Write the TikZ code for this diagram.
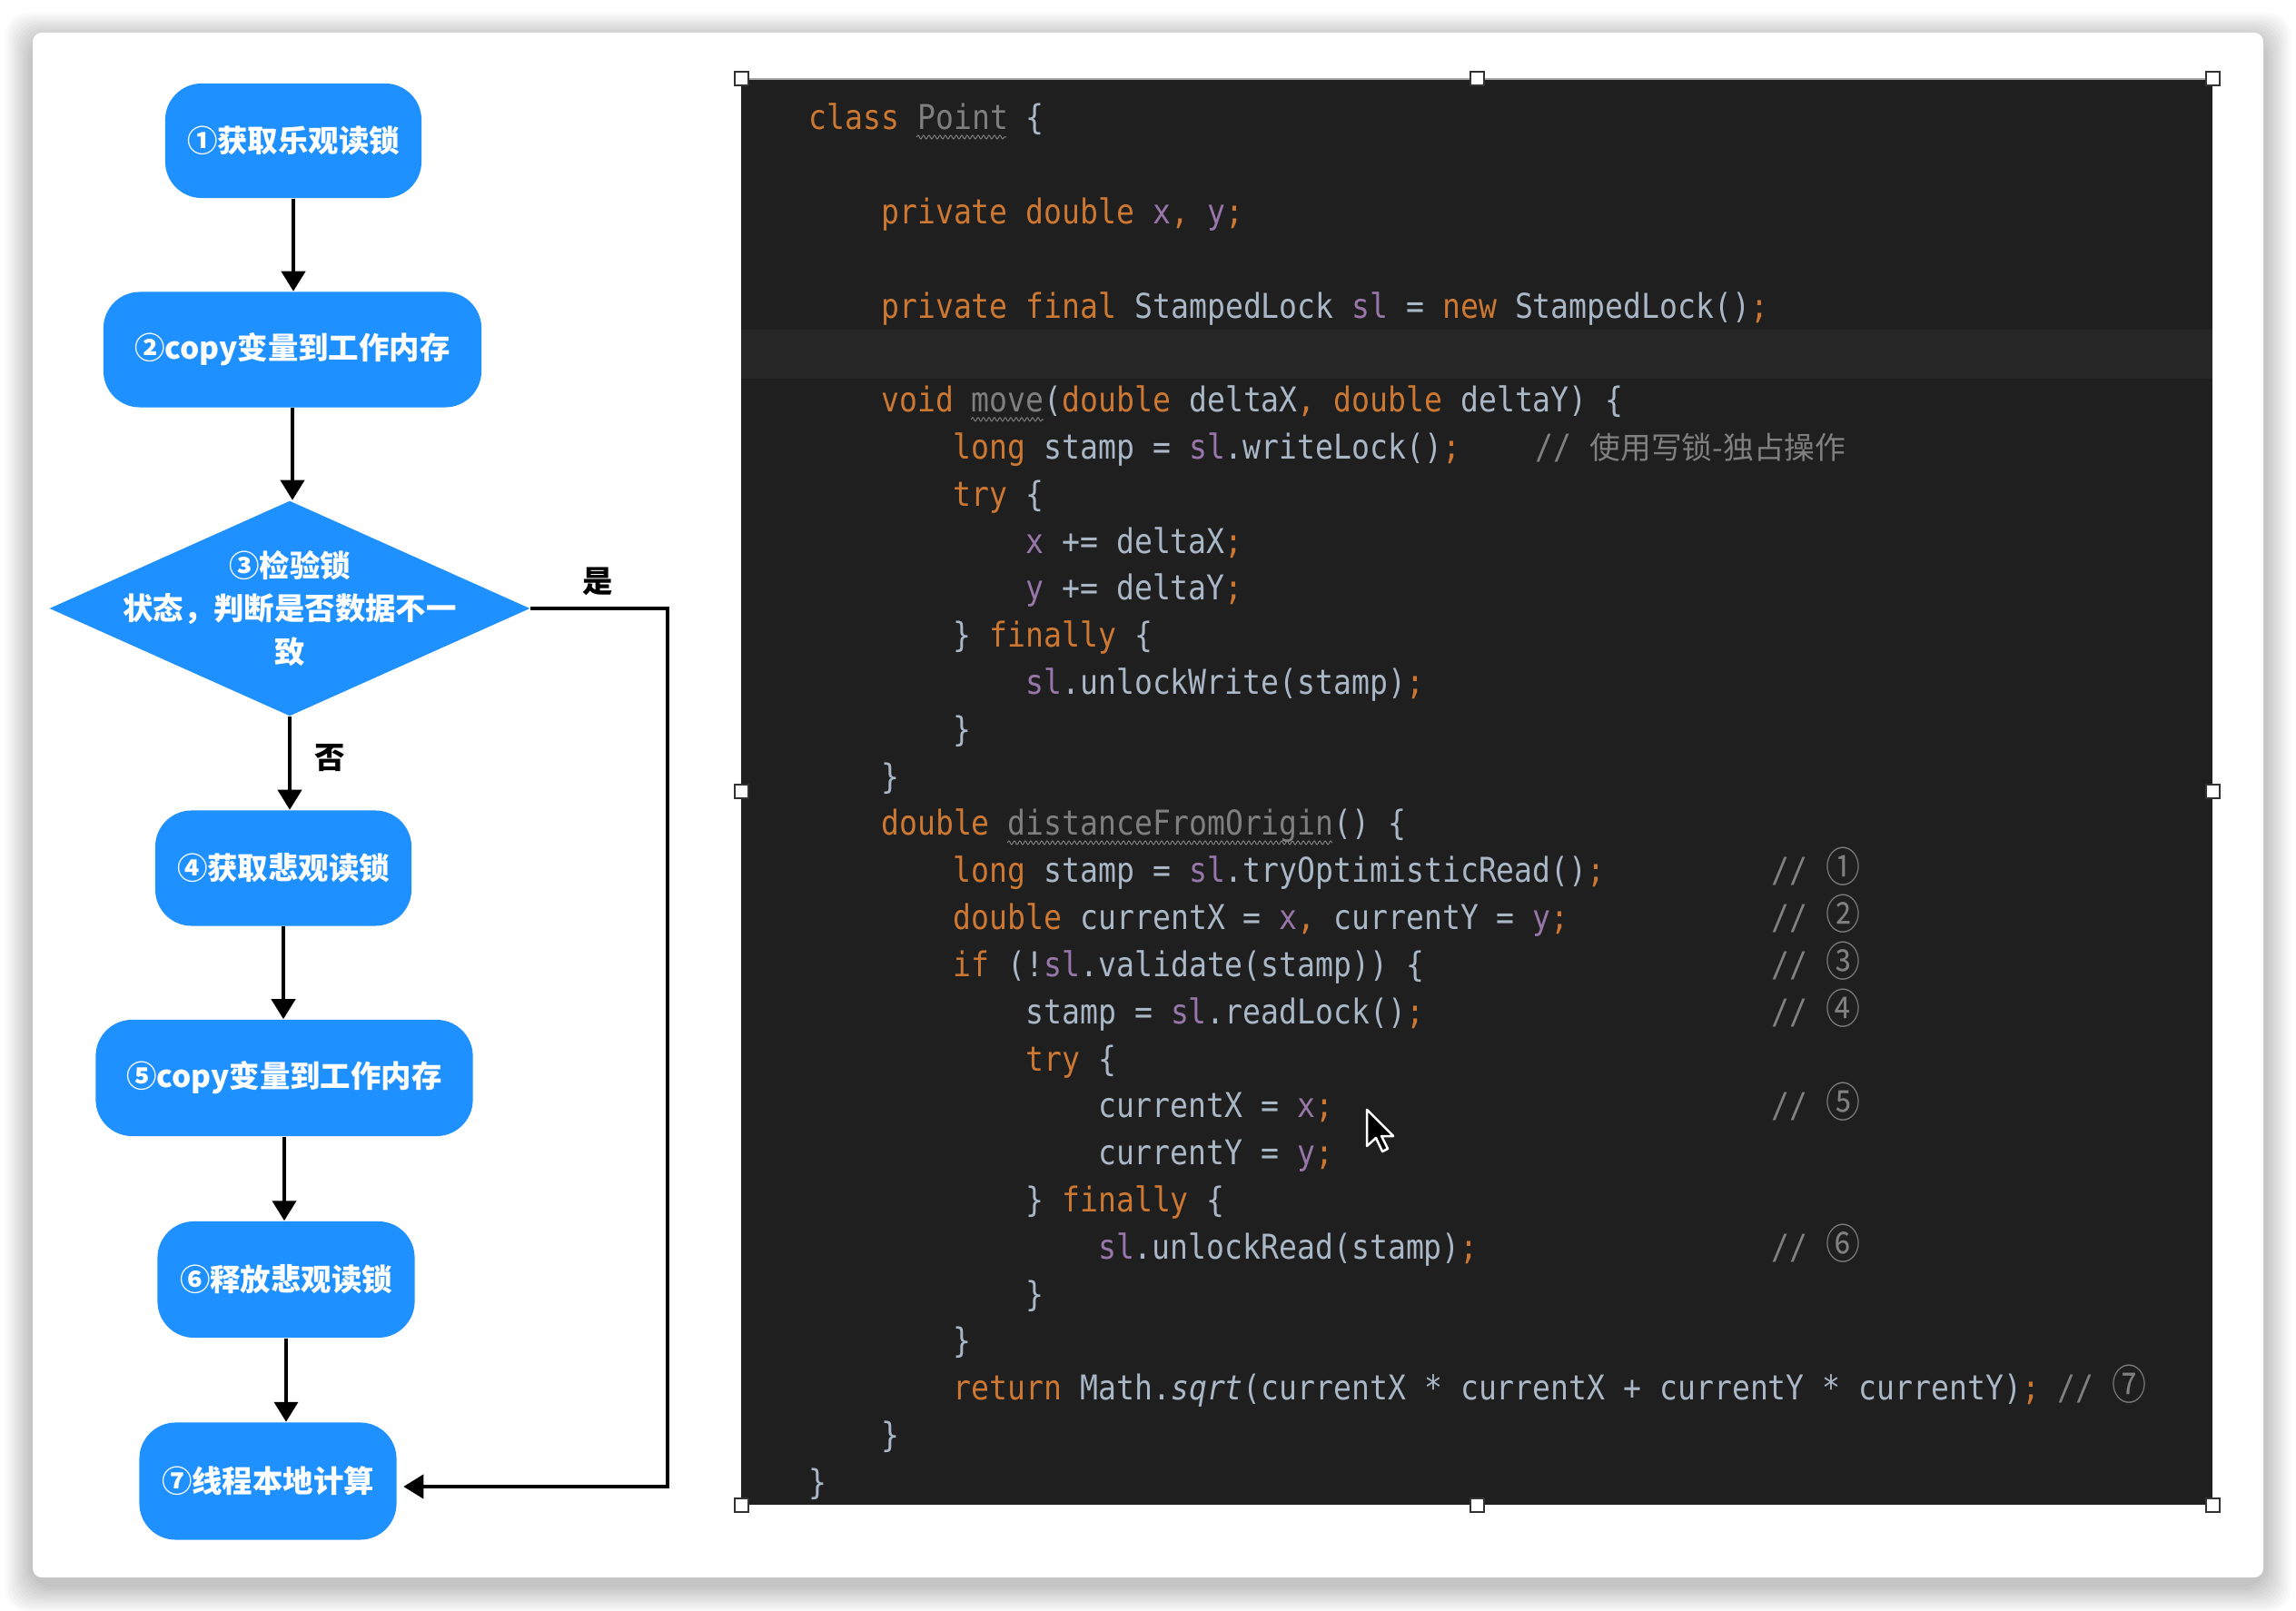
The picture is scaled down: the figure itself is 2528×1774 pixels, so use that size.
\documentclass[tikz,border=0pt]{standalone}
\usepackage{fontspec}
\usetikzlibrary{arrows.meta,shapes.geometric,decorations.pathmorphing}
\newfontfamily\cjk{Noto Sans CJK SC}
\newfontfamily\codefont[FakeStretch=0.88]{DejaVu Sans Mono}
\definecolor{kw}{HTML}{CC7832}
\definecolor{fd}{HTML}{9876AA}
\definecolor{tx}{HTML}{A9B7C6}
\definecolor{ug}{HTML}{7F7F7F}
\definecolor{cmt}{HTML}{808080}
\definecolor{codebg}{HTML}{1F1F1F}
\definecolor{rowbg}{HTML}{262626}
\definecolor{fb}{HTML}{1E90FF}
\newcommand\Kw[1]{\textcolor{kw}{#1}}
\newcommand\Fd[1]{\textcolor{fd}{#1}}
\newcommand\Un[1]{\textcolor{ug}{#1}}
\newcommand\Cm[1]{\textcolor{cmt}{#1}}
\newcommand\cf{\codefont\fontsize{10.7}{12}\selectfont}
\newcommand\ff{\cjk\fontsize{9.5}{13.4}\selectfont\bfseries}
\newcommand\cd[1]{\scalebox{1}[1.2]{\cjk\fontsize{10.8}{12}\selectfont #1}}
\tikzset{
  codeln/.style={anchor=base west, inner sep=0pt, text=tx, font=\cf},
  fbox/.style={fill=fb, rounded corners=0.4cm, inner sep=0pt, text=white, font=\ff, align=center},
  ftext/.style={inner sep=0pt, text=white, font=\ff, align=center},
  lbl/.style={inner sep=0pt, text=black, font=\ff},
  arr/.style={line width=0.04cm, -{Triangle[length=0.22cm,width=0.26cm]}},
  wavy/.style={draw=ug, line width=0.01cm, decorate, decoration={snake, amplitude=0.02cm, segment length=0.06cm}},
  handle/.style={fill=white, draw=black!80, line width=0.02cm}
}
\begin{document}
\begin{tikzpicture}[x=0.01cm, y=-0.01cm]
\useasboundingbox (0,0) rectangle (2528,1774);
\fill[white] (0,0) rectangle (2528,1774);
% card shadow
\foreach \i in {1,...,12}{
  \fill[black, opacity=0.02, rounded corners=0.25cm] ({36-\i*2.5},{36-\i*2.5+8}) rectangle ({2492+\i*2.5},{1737+\i*2.5+8});
}
\fill[white, rounded corners=0.1cm] (36,36) rectangle (2492,1737);
% code panel
\fill[codebg] (816,87) rectangle (2436,1657);
\fill[rowbg] (816,363) rectangle (2436,417);
\draw[black!35, line width=0.015cm] (816,87) -- (2436,87);
% code lines
\node[codeln] (l1) at ({890+0*19.9},{143+0*51.8}) {\Kw{class} \Un{Point} \{};
\node[codeln] (l3) at ({890+4*19.9},{143+2*51.8}) {\Kw{private double} \Fd{x}\Kw{,} \Fd{y}\Kw{;}};
\node[codeln] (l5) at ({890+4*19.9},{143+4*51.8}) {\Kw{private final} StampedLock \Fd{sl} = \Kw{new} StampedLock()\Kw{;}};
\node[codeln] (l7) at ({890+4*19.9},{143+6*51.8}) {\Kw{void} \Un{move}(\Kw{double} deltaX\Kw{,} \Kw{double} deltaY) \{};
\node[codeln] (l8) at ({890+8*19.9},{143+7*51.8}) {\Kw{long} stamp = \Fd{sl}.writeLock()\Kw{;}};
\node[codeln] (l8c) at (1690,{143+7*51.8}) {\Cm{// {\cjk\fontsize{9.6}{12}\selectfont 使用写锁-独占操作}}};
\node[codeln] (l9) at ({890+8*19.9},{143+8*51.8}) {\Kw{try} \{};
\node[codeln] (l10) at ({890+12*19.9},{143+9*51.8}) {\Fd{x} += deltaX\Kw{;}};
\node[codeln] (l11) at ({890+12*19.9},{143+10*51.8}) {\Fd{y} += deltaY\Kw{;}};
\node[codeln] (l12) at ({890+8*19.9},{143+11*51.8}) {\} \Kw{finally} \{};
\node[codeln] (l13) at ({890+12*19.9},{143+12*51.8}) {\Fd{sl}.unlockWrite(stamp)\Kw{;}};
\node[codeln] (l14) at ({890+8*19.9},{143+13*51.8}) {\}};
\node[codeln] (l15) at ({890+4*19.9},{143+14*51.8}) {\}};
\node[codeln] (l16) at ({890+4*19.9},{143+15*51.8}) {\Kw{double} \Un{distanceFromOrigin}() \{};
\node[codeln] (l17) at ({890+8*19.9},{143+16*51.8}) {\Kw{long} stamp = \Fd{sl}.tryOptimisticRead()\Kw{;}};
\node[codeln] (l18) at ({890+8*19.9},{143+17*51.8}) {\Kw{double} currentX = \Fd{x}\Kw{,} currentY = \Fd{y}\Kw{;}};
\node[codeln] (l19) at ({890+8*19.9},{143+18*51.8}) {\Kw{if} (!\Fd{sl}.validate(stamp)) \{};
\node[codeln] (l20) at ({890+12*19.9},{143+19*51.8}) {stamp = \Fd{sl}.readLock()\Kw{;}};
\node[codeln] (l21) at ({890+12*19.9},{143+20*51.8}) {\Kw{try} \{};
\node[codeln] (l22) at ({890+16*19.9},{143+21*51.8}) {currentX = \Fd{x}\Kw{;}};
\node[codeln] (l23) at ({890+16*19.9},{143+22*51.8}) {currentY = \Fd{y}\Kw{;}};
\node[codeln] (l24) at ({890+12*19.9},{143+23*51.8}) {\} \Kw{finally} \{};
\node[codeln] (l25) at ({890+16*19.9},{143+24*51.8}) {\Fd{sl}.unlockRead(stamp)\Kw{;}};
\node[codeln] (l26) at ({890+12*19.9},{143+25*51.8}) {\}};
\node[codeln] (l27) at ({890+8*19.9},{143+26*51.8}) {\}};
\node[codeln] (l28) at ({890+8*19.9},{143+27*51.8}) {\Kw{return} Math.\textit{sqrt}(currentX * currentX + currentY * currentY)\Kw{;} \Cm{// \cd{⑦}}};
\node[codeln] (l29) at ({890+4*19.9},{143+28*51.8}) {\}};
\node[codeln] (l30) at ({890+0*19.9},{143+29*51.8}) {\}};
% circled comments
\node[codeln] (k1) at (1950,{143+16*51.8}) {\Cm{// \cd{①}}};
\node[codeln] (k2) at (1950,{143+17*51.8}) {\Cm{// \cd{②}}};
\node[codeln] (k3) at (1950,{143+18*51.8}) {\Cm{// \cd{③}}};
\node[codeln] (k4) at (1950,{143+19*51.8}) {\Cm{// \cd{④}}};
\node[codeln] (k5) at (1950,{143+21*51.8}) {\Cm{// \cd{⑤}}};
\node[codeln] (k6) at (1950,{143+24*51.8}) {\Cm{// \cd{⑥}}};
% wavy underlines
\draw[wavy] (1009,151) -- (1108,151);
\draw[wavy] (1069,{151+6*51.8}) -- (1149,{151+6*51.8});
\draw[wavy] (1109,{151+15*51.8}) -- (1467,{151+15*51.8});
% handles
\foreach \hx/\hy in {816/87,1626/87,2436/87,816/872,2436/872,816/1657,1626/1657,2436/1657}{
  \draw[handle] ({\hx-7.5},{\hy-7.5}) rectangle ({\hx+7.5},{\hy+7.5});
}
% cursor
\draw[fill=black, draw=white, line width=0.025cm, line join=round] (1505,1222) -- (1505,1262) -- (1515,1253) -- (1522,1268) -- (1528,1265) -- (1521,1251) -- (1534,1251) -- cycle;
% flowchart
\node[fbox, minimum width=2.82cm, minimum height=1.26cm] (n1) at (323,155) {①获取乐观读锁};
\node[fbox, minimum width=4.16cm, minimum height=1.27cm] (n2) at (322,385) {②copy变量到工作内存};
\node[diamond, fill=fb, inner sep=0pt, minimum width=5.29cm, minimum height=2.37cm] (n3) at (319,670) {};
\node[ftext] (n3t) at (319,670) {③检验锁\\状态，判断是否数据不一\\致};
\node[fbox, minimum width=2.82cm, minimum height=1.27cm] (n4) at (312,956) {④获取悲观读锁};
\node[fbox, minimum width=4.15cm, minimum height=1.28cm] (n5) at (313,1187) {⑤copy变量到工作内存};
\node[fbox, minimum width=2.83cm, minimum height=1.28cm] (n6) at (315,1409) {⑥释放悲观读锁};
\node[fbox, minimum width=2.83cm, minimum height=1.29cm] (n7) at (295,1631) {⑦线程本地计算};
\draw[arr] (n1.south) -- (n1.south |- n2.north);
\draw[arr] (n2.south) -- (n2.south |- n3.north);
\draw[arr] (n3.south) -- (n3.south |- n4.north);
\draw[arr] (n4.south) -- (n4.south |- n5.north);
\draw[arr] (n5.south) -- (n5.south |- n6.north);
\draw[arr] (n6.south) -- (n6.south |- n7.north);
\coordinate (rt) at (735,670);
\coordinate (e7) at ([yshift=-0.06cm]n7.east);
\draw[arr, shorten >=0.07cm] (n3.east) -- (rt) -- (rt |- e7) -- (e7);
\node[lbl] (yes) at (658,640) {是};
\node[lbl] (no) at (363,835) {否};
\end{tikzpicture}
\end{document}
